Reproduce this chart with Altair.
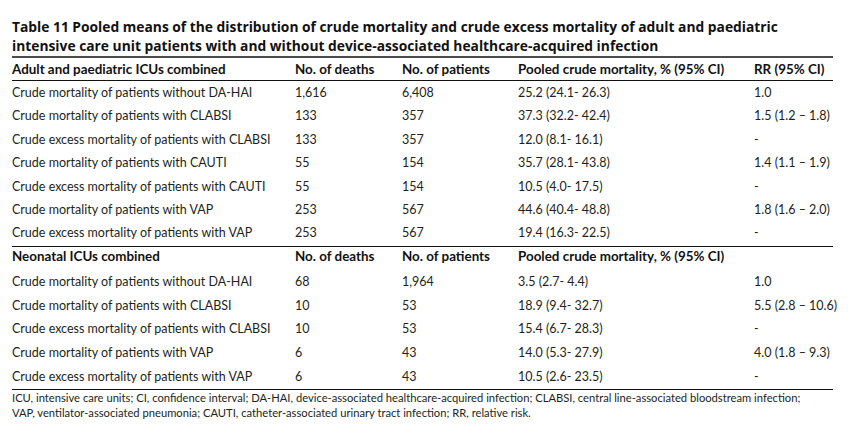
import altair as alt
import pandas as pd

# ---- table content ----
title_lines = [
    "Table 11 Pooled means of the distribution of crude mortality and crude excess mortality of adult and paediatric",
    "intensive care unit patients with and without device-associated healthcare-acquired infection",
]
header_adult = ["Adult and paediatric ICUs combined", "No. of deaths", "No. of patients",
                "Pooled crude mortality, % (95% CI)", "RR (95% CI)"]
adult_labels = [
    "Crude mortality of patients without DA-HAI",
    "Crude mortality of patients with CLABSI",
    "Crude excess mortality of patients with CLABSI",
    "Crude mortality of patients with CAUTI",
    "Crude excess mortality of patients with CAUTI",
    "Crude mortality of patients with VAP",
    "Crude excess mortality of patients with VAP",
]
adult_deaths = ["1,616", "133", "133", "55", "55", "253", "253"]
adult_patients = ["6,408", "357", "357", "154", "154", "567", "567"]
adult_mortality = ["25.2 (24.1- 26.3)", "37.3 (32.2- 42.4)", "12.0 (8.1- 16.1)",
                   "35.7 (28.1- 43.8)", "10.5 (4.0- 17.5)", "44.6 (40.4- 48.8)", "19.4 (16.3- 22.5)"]
adult_rr = ["1.0", "1.5 (1.2 \u2013 1.8)", "-", "1.4 (1.1 \u2013 1.9)", "-", "1.8 (1.6 \u2013 2.0)", "-"]

header_neo = ["Neonatal ICUs combined", "No. of deaths", "No. of patients",
              "Pooled crude mortality, % (95% CI)", ""]
neo_labels = [
    "Crude mortality of patients without DA-HAI",
    "Crude mortality of patients with CLABSI",
    "Crude excess mortality of patients with CLABSI",
    "Crude mortality of patients with VAP",
    "Crude excess mortality of patients with VAP",
]
neo_deaths = ["68", "10", "10", "6", "6"]
neo_patients = ["1,964", "53", "53", "43", "43"]
neo_mortality = ["3.5 (2.7- 4.4)", "18.9 (9.4- 32.7)", "15.4 (6.7- 28.3)",
                 "14.0 (5.3- 27.9)", "10.5 (2.6- 23.5)"]
neo_rr = ["1.0", "5.5 (2.8 \u2013 10.6)", "-", "4.0 (1.8 \u2013 9.3)", "-"]

footnotes = [
    "ICU, intensive care units; CI, confidence interval; DA-HAI, device-associated healthcare-acquired infection; CLABSI, central line-associated bloodstream infection;",
    "VAP, ventilator-associated pneumonia; CAUTI, catheter-associated urinary tract infection; RR, relative risk.",
]

# ---- layout (page pixel coordinates) ----
col_x = [12, 295, 402, 518, 754]
row_h = 23.4
title_y = [28, 46.5]
adult_header_y = 70
adult_first_y = 93
neo_header_y = 257
neo_first_y = 282
foot_y = [399, 414]
line_x0, line_x1 = 12, 833
rules = pd.DataFrame({
    "x": [line_x0] * 4, "x2": [line_x1] * 4,
    "y": [57, 80.5, 246.5, 389.5],
    "w": [1.6, 1.2, 1.2, 1.2],
})

title_df = pd.DataFrame({"x": col_x[0], "y": title_y, "t": title_lines})
hdr_rows = []
for i, t in enumerate(header_adult):
    hdr_rows.append({"x": col_x[i], "y": adult_header_y, "t": t})
for i, t in enumerate(header_neo):
    if t:
        hdr_rows.append({"x": col_x[i], "y": neo_header_y, "t": t})
hdr_df = pd.DataFrame(hdr_rows)

body_rows = []
for r, cols in enumerate(zip(adult_labels, adult_deaths, adult_patients, adult_mortality, adult_rr)):
    for c, t in enumerate(cols):
        body_rows.append({"x": col_x[c], "y": adult_first_y + r * row_h, "t": t})
for r, cols in enumerate(zip(neo_labels, neo_deaths, neo_patients, neo_mortality, neo_rr)):
    for c, t in enumerate(cols):
        body_rows.append({"x": col_x[c], "y": neo_first_y + r * (row_h + 0.3), "t": t})
body_df = pd.DataFrame(body_rows)
foot_df = pd.DataFrame({"x": col_x[0], "y": foot_y, "t": footnotes})

xs = alt.Scale(domain=[8, 857], nice=False, zero=False)
ys = alt.Scale(domain=[8, 438], nice=False, zero=False, reverse=True)
X = alt.X("x:Q", scale=xs, axis=None)
Y = alt.Y("y:Q", scale=ys, axis=None)

ink = "#231f20"

def text_layer(df, size, weight, font="Lato", color=ink):
    return alt.Chart(df).mark_text(
        align="left", baseline="middle", font=font, fontSize=size,
        fontWeight=weight, color=color
    ).encode(x=X, y=Y, text="t:N")

rule_layer = alt.Chart(rules).mark_rule(color="#111111").encode(
    x=X, x2="x2:Q", y=Y, strokeWidth=alt.StrokeWidth("w:Q", scale=None, legend=None)
)

chart = alt.layer(
    rule_layer,
    text_layer(title_df, 13.8, "bold", "Open Sans", "#111111"),
    text_layer(hdr_df, 13.4, "bold", "Lato", "#111111"),
    text_layer(body_df, 12.5, "normal"),
    text_layer(foot_df, 11.2, "normal"),
).properties(width=849, height=430, padding=0, autosize="none",
             background="white").configure_view(stroke=None)

chart.save("out.html", embed_options={"renderer": "svg", "actions": False})
